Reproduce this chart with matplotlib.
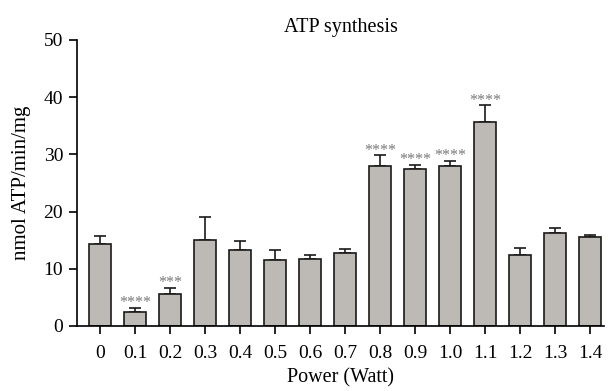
import matplotlib
matplotlib.use("Agg")
import matplotlib.pyplot as plt
import numpy as np

categories = ["0", "0.1", "0.2", "0.3", "0.4", "0.5", "0.6", "0.7",
              "0.8", "0.9", "1.0", "1.1", "1.2", "1.3", "1.4"]
values = [14.3, 2.4, 5.65, 15.0, 13.35, 11.6, 11.65, 12.7,
          27.9, 27.5, 28.0, 35.7, 12.35, 16.25, 15.55]
errors = [1.45, 0.75, 1.0, 4.1, 1.45, 1.75, 0.8, 0.75,
          1.95, 0.65, 0.85, 2.85, 1.35, 0.9, 0.4]
stars = ["", "****", "***", "", "", "", "", "",
         "****", "****", "****", "****", "", "", ""]

plt.rcParams['font.family'] = ['Liberation Serif', 'DejaVu Serif']

fig = plt.figure(figsize=(6.08, 3.91), dpi=100)
ax = fig.add_axes([77/608, 1-326/391, (604-77)/608, (326-40)/391])

x = np.arange(len(categories))
ax.bar(x, values, width=0.62, color='#bdb9b5', edgecolor='#1a1a1a', linewidth=1.2, zorder=2)
ax.errorbar(x, values, yerr=[np.zeros(len(errors)), errors], fmt='none',
            ecolor='#1a1a1a', elinewidth=1.2, capsize=4, capthick=1.2, zorder=1)
for xi, v, e, s in zip(x, values, errors, stars):
    if s:
        ax.text(xi, v + e - 0.6, s, ha='center', va='bottom', fontsize=11.5, color='#7a7a7a')

ax.set_xlim(-0.66, 14.4)
ax.set_ylim(0, 50)
ax.set_yticks([0, 10, 20, 30, 40, 50])
ax.set_xticks(x)
ax.set_xticklabels(categories)
ax.spines['top'].set_visible(False)
ax.spines['right'].set_visible(False)
for sp in ['left', 'bottom']:
    ax.spines[sp].set_linewidth(1.2)
ax.tick_params(axis='both', direction='out', length=6, width=1.2, labelsize=14)
ax.tick_params(axis='x', pad=8)
ax.tick_params(axis='y', pad=4)
ax.set_xlabel("Power (Watt)", fontsize=14.5, labelpad=4)
ax.set_ylabel("nmol ATP/min/mg", fontsize=15, labelpad=9)
ax.set_title("ATP synthesis", fontsize=14.5, pad=6)

fig.savefig("out.png", dpi=100)
